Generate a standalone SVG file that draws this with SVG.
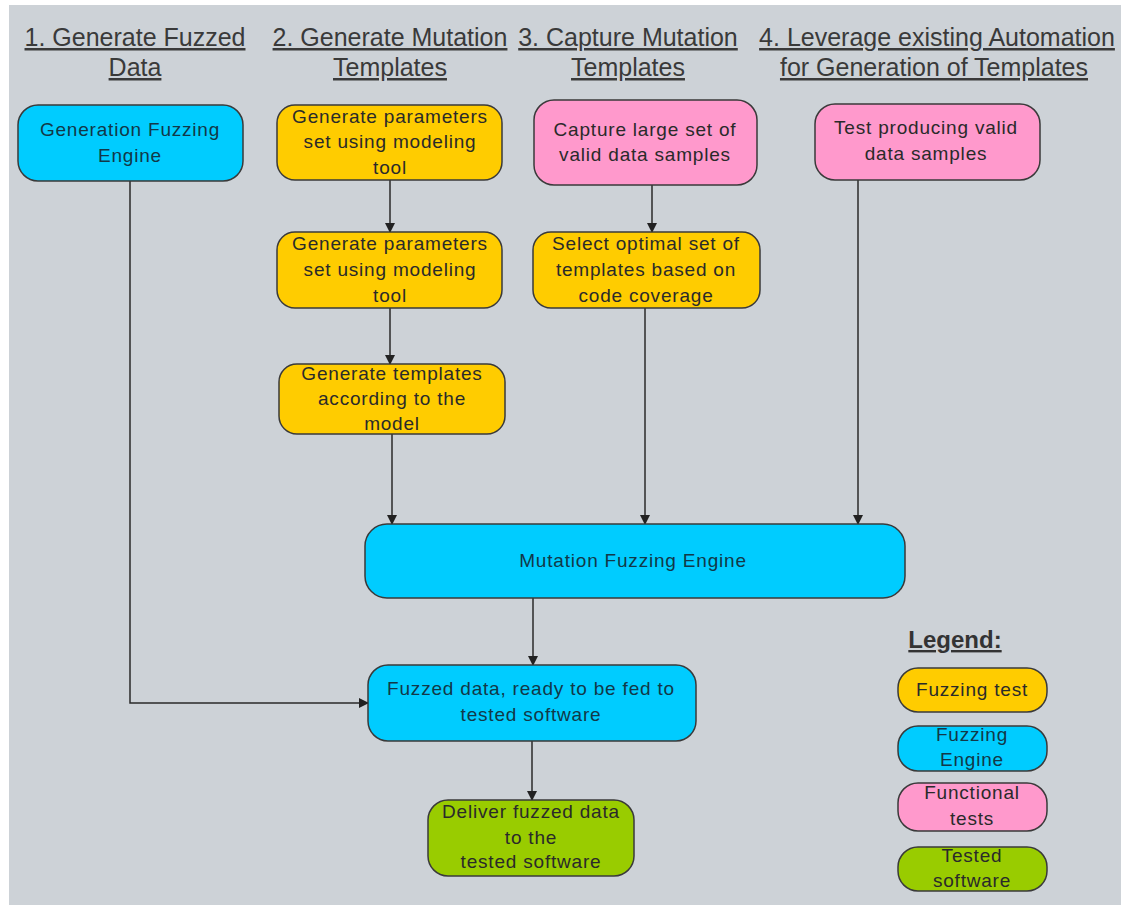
<svg xmlns="http://www.w3.org/2000/svg" width="1126" height="905" viewBox="0 0 1126 905">
<defs>
<marker id="arr" markerWidth="10" markerHeight="10" refX="9" refY="5" orient="auto" markerUnits="userSpaceOnUse">
<path d="M0,0 L10,5 L0,10 z" fill="#222"/>
</marker>
<style>
.hdr{font-family:"Liberation Sans",Arial,sans-serif;font-size:25px;fill:#3a3a3a;text-anchor:middle;text-decoration:underline}
.t{font-family:"Liberation Sans",Arial,sans-serif;font-size:19px;letter-spacing:0.8px;fill:#2a2a2a;text-anchor:middle}
.tb{font-family:"Liberation Sans",Arial,sans-serif;font-size:19px;letter-spacing:0.8px;fill:#123848;text-anchor:middle}
.box{stroke:#3a3a3a;stroke-width:1.5}
.y{fill:#ffcc00}.b{fill:#00ccff}.p{fill:#ff99cc}.g{fill:#99cc00}
.c{stroke:#2a2a2a;stroke-width:1.5;fill:none;marker-end:url(#arr)}
</style>
</defs>
<rect x="0" y="0" width="1126" height="905" fill="#ffffff"/>
<rect x="9" y="5" width="1112" height="900" fill="#cdd2d7"/>
<g id="headers">
<text class="hdr" x="135" y="46">1. Generate Fuzzed</text>
<text class="hdr" x="135" y="76">Data</text>
<text class="hdr" x="390" y="46">2. Generate Mutation</text>
<text class="hdr" x="390" y="76">Templates</text>
<text class="hdr" x="628" y="46">3. Capture Mutation</text>
<text class="hdr" x="628" y="76">Templates</text>
<text class="hdr" x="937" y="46">4. Leverage existing Automation</text>
<text class="hdr" x="934" y="76">for Generation of Templates</text>
</g>
<g id="connectors">
<path class="c" d="M130,181 V703 H368"/>
<path class="c" d="M390,180 V232"/>
<path class="c" d="M390,308 V364"/>
<path class="c" d="M392,434 V524"/>
<path class="c" d="M652,185 V232"/>
<path class="c" d="M645,308 V524"/>
<path class="c" d="M858,180 V524"/>
<path class="c" d="M533,598 V665"/>
<path class="c" d="M532,741 V800"/>
</g>
<g id="gen-fuzzing-engine">
<rect class="box b" x="18" y="105" width="225" height="76" rx="20"/>
<text class="tb" x="130" y="136">Generation Fuzzing</text>
<text class="tb" x="130" y="162">Engine</text>
</g>
<g id="gen-params-1">
<rect class="box y" x="277" y="105" width="225" height="75" rx="18"/>
<text class="t" x="390" y="123">Generate parameters</text>
<text class="t" x="390" y="148">set using modeling</text>
<text class="t" x="390" y="174">tool</text>
</g>
<g id="gen-params-2">
<rect class="box y" x="277" y="232" width="225" height="76" rx="18"/>
<text class="t" x="390" y="250">Generate parameters</text>
<text class="t" x="390" y="276">set using modeling</text>
<text class="t" x="390" y="302">tool</text>
</g>
<g id="gen-templates">
<rect class="box y" x="279" y="364" width="226" height="70" rx="18"/>
<text class="t" x="392" y="380">Generate templates</text>
<text class="t" x="392" y="405">according to the</text>
<text class="t" x="392" y="430">model</text>
</g>
<g id="capture-samples">
<rect class="box p" x="534" y="100" width="223" height="85" rx="20"/>
<text class="t" x="645" y="136">Capture large set of</text>
<text class="t" x="645" y="161">valid data samples</text>
</g>
<g id="select-templates">
<rect class="box y" x="533" y="232" width="227" height="76" rx="18"/>
<text class="t" x="646" y="250">Select optimal set of</text>
<text class="t" x="646" y="276">templates based on</text>
<text class="t" x="646" y="302">code coverage</text>
</g>
<g id="test-producing">
<rect class="box p" x="815" y="104" width="225" height="76" rx="20"/>
<text class="t" x="926" y="134">Test producing valid</text>
<text class="t" x="926" y="160">data samples</text>
</g>
<g id="mutation-engine">
<rect class="box b" x="365" y="524" width="540" height="74" rx="22"/>
<text class="tb" x="633" y="567">Mutation Fuzzing Engine</text>
</g>
<g id="fuzzed-data">
<rect class="box b" x="368" y="665" width="328" height="76" rx="20"/>
<text class="tb" x="531" y="695">Fuzzed data, ready to be fed to</text>
<text class="tb" x="531" y="721">tested software</text>
</g>
<g id="deliver">
<rect class="box g" x="428" y="800" width="206" height="76" rx="20"/>
<text class="t" x="531" y="818">Deliver fuzzed data</text>
<text class="t" x="531" y="844">to the</text>
<text class="t" x="531" y="868">tested software</text>
</g>
<g id="legend">
<text x="955" y="648" font-family="'Liberation Sans',Arial,sans-serif" font-size="24" font-weight="bold" fill="#333" text-anchor="middle" text-decoration="underline">Legend:</text>
<rect class="box y" x="898" y="668" width="149" height="44" rx="20"/>
<text class="t" x="972" y="696">Fuzzing test</text>
<rect class="box b" x="898" y="726" width="149" height="45" rx="20"/>
<text class="tb" x="972" y="741">Fuzzing</text>
<text class="tb" x="972" y="766">Engine</text>
<rect class="box p" x="898" y="783" width="149" height="48" rx="20"/>
<text class="t" x="972" y="799">Functional</text>
<text class="t" x="972" y="825">tests</text>
<rect class="box g" x="898" y="847" width="149" height="44" rx="20"/>
<text class="t" x="972" y="862">Tested</text>
<text class="t" x="972" y="887">software</text>
</g>
</svg>
